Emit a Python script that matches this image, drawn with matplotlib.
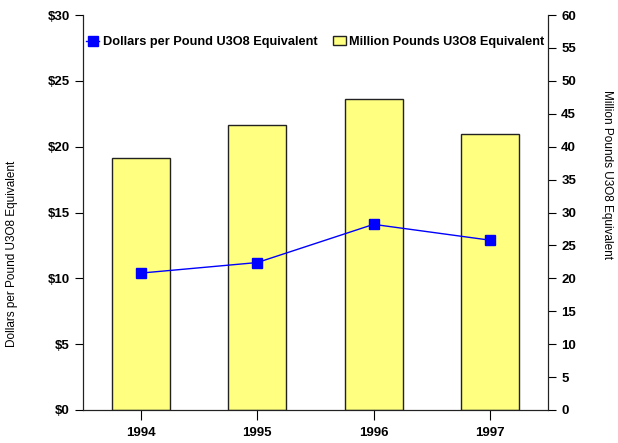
import matplotlib
matplotlib.use("Agg")
import matplotlib.pyplot as plt
from matplotlib.lines import Line2D
from matplotlib.patches import Patch

plt.rcParams['font.family'] = ['Liberation Sans Narrow', 'Liberation Sans', 'DejaVu Sans']

years = ['1994', '1995', '1996', '1997']
million_pounds = [38.3, 43.3, 47.3, 41.9]
dollars_per_pound = [10.4, 11.2, 14.1, 12.9]

fig = plt.figure(figsize=(6.18, 4.43), dpi=100)
ax = fig.add_axes([0.1343, 0.0745, 0.7524, 0.8916])
ax2 = ax.twinx()

x = range(len(years))

# bars on the right axis, line on the left
ax2.bar(x, million_pounds, width=0.5, color='#ffff80', edgecolor='#222222', linewidth=1, zorder=1)
ax.plot(x, dollars_per_pound, color='#0000ff', marker='s', markersize=7, linewidth=1, zorder=5)

ax.set_zorder(ax2.get_zorder() + 1)
ax.patch.set_visible(False)

ax.set_xlim(-0.5, 3.5)
ax.set_ylim(0, 30)
ax2.set_ylim(0, 60)
ax.set_yticks(range(0, 31, 5))
ax.set_yticklabels(['$%d' % v for v in range(0, 31, 5)])
ax2.set_yticks(range(0, 61, 5))
ax.set_xticks(list(x))
ax.set_xticklabels(years)

for a in (ax, ax2):
    a.spines['top'].set_visible(False)
    for s in a.spines.values():
        s.set_color('#222222')
    a.tick_params(length=6, width=0.8, labelsize=9.5)
    for lbl in a.get_xticklabels() + a.get_yticklabels():
        lbl.set_fontweight('bold')
ax.tick_params(axis='x', length=7, pad=5)

ax.set_ylabel('Dollars per Pound U3O8 Equivalent', fontsize=8.5)
ax.yaxis.set_label_coords(-0.14, 0.395)
ax2.set_ylabel('Million Pounds U3O8 Equivalent', fontsize=8.5, rotation=-90, va='bottom')
ax2.yaxis.set_label_coords(1.115, 0.595)

handles = [Line2D([0], [0], color='#0000ff', marker='s', markersize=7, linewidth=1),
           Patch(facecolor='#ffff80', edgecolor='#222222')]
ax.legend(handles, ['Dollars per Pound U3O8 Equivalent', 'Million Pounds U3O8 Equivalent'],
          loc='upper center', bbox_to_anchor=(0.5, 0.975), ncol=2, frameon=False,
          prop={'weight': 'bold', 'size': 9.2}, handlelength=1.0, handletextpad=0.3,
          columnspacing=1.2)

fig.savefig('out.png', dpi=100)
